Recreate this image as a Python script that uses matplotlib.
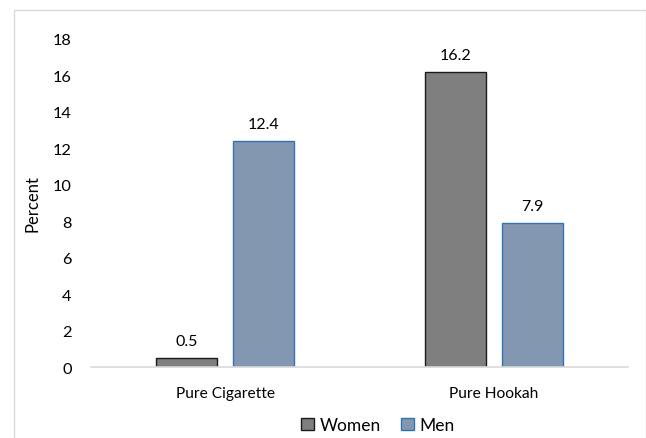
import matplotlib
matplotlib.use("Agg")
import matplotlib.pyplot as plt
import numpy as np
from matplotlib.patches import Rectangle

categories = ["Pure Cigarette", "Pure Hookah"]
women = [0.5, 16.2]
men = [12.4, 7.9]
yticks = [0, 2, 4, 6, 8, 10, 12, 14, 16, 18]

plt.rcParams["font.family"] = ["Lato", "DejaVu Sans"]

fig = plt.figure(figsize=(6.46, 4.39), dpi=100)
ax = fig.add_axes([91 / 646, 1 - 368 / 439, 537 / 646, 328 / 439])

# chart-area border
fig.patches.append(Rectangle((14 / 646, -0.05), (645.5 - 14) / 646, 1.05 - 11 / 439,
                             transform=fig.transFigure, fill=False,
                             edgecolor="#d9d9d9", linewidth=1.0))

x = np.arange(len(categories))
w = 0.227
off = 0.143
b1 = ax.bar(x - off, women, w, color="#7f7f7f", edgecolor="#1a1a1a", linewidth=1.0, label="Women")
b2 = ax.bar(x + off, men, w, color="#8497b0", edgecolor="#2e75b6", linewidth=1.0, label="Men")

for bars, vals in ((b1, women), (b2, men)):
    for r, v in zip(bars, vals):
        ax.annotate(f"{v}", (r.get_x() + r.get_width() / 2, v), xytext=(0, 7),
                    textcoords="offset points", ha="center", va="bottom",
                    fontsize=11.5, color="#000000")

ax.set_xlim(-0.5, 1.5)
ax.set_ylim(0, 18)
ax.set_yticks(yticks)
ax.set_xticks(x)
ax.set_xticklabels(categories, fontsize=11.2)
ax.tick_params(axis="y", length=0, labelsize=11.8, pad=14)
ax.tick_params(axis="x", length=0, pad=14)
for s in ("top", "right", "left"):
    ax.spines[s].set_visible(False)
ax.spines["bottom"].set_color("#d9d9d9")
ax.spines["bottom"].set_linewidth(1.2)
ax.set_ylabel("Percent", fontsize=12)
ax.yaxis.set_label_coords(-0.094, 0.5)

fig.legend(handles=[b1, b2], loc="center", bbox_to_anchor=(378 / 646, 1 - 426 / 439),
           ncol=2, frameon=False, fontsize=12.5, handlelength=0.75, handleheight=0.75,
           handletextpad=0.3, columnspacing=1.2)

fig.savefig("out.png", dpi=100)
